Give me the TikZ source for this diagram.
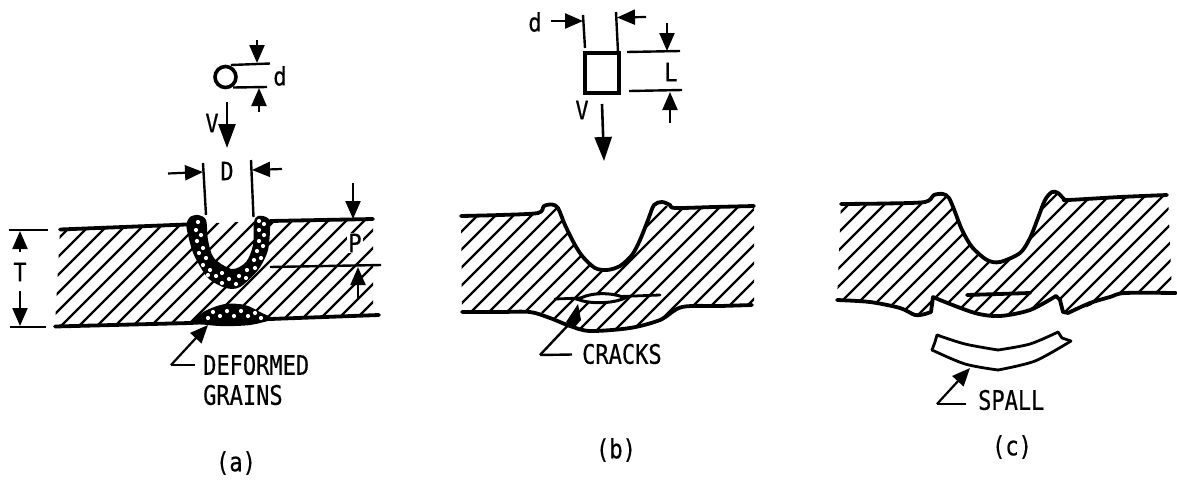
\documentclass[tikz,border=0pt]{standalone}
\usepackage{fontspec}
\setmainfont{DejaVu Sans Mono}[FakeBold=0.5]
\usetikzlibrary{arrows.meta}
\tikzset{
  x=1pt,y=-1pt,
  dimline/.style={line width=2.4pt},
  arrowline/.style={line width=2.2pt,-{Triangle[length=18pt,width=15pt]}},
  bigarrow/.style={line width=2.6pt,-{Triangle[length=24pt,width=17pt]}},
  outline/.style={line width=3.8pt,line cap=round,line join=round},
  thinout/.style={line width=2.8pt,line cap=round,line join=round},
  hatchline/.style={line width=2.3pt},
  lab/.style={font=\fontsize{22}{22}\selectfont,inner sep=0pt,yscale=1.22,anchor=west},
  dimlab/.style={font=\fontsize{22}{22}\selectfont,inner sep=0pt,yscale=1.15},
  captext/.style={font=\fontsize{22}{22}\selectfont,inner sep=0pt,yscale=1.2},
}
\newcommand{\hatchfill}[3]{\foreach \i in {#1,#2,...,#3}{\draw[hatchline] (\i,345)--(\i+170,175);}}
\begin{document}
\begin{tikzpicture}
\useasboundingbox (0,0) rectangle (1177,480);
\fill[white] (0,0) rectangle (1177,480);

% ---------- panel (a)
\begin{scope}
\clip (60,229) -- (186,224) -- (270,221) -- (373,219) -- (373,315) -- (270,319) -- (190,323) -- (55,326) -- cycle;
\hatchfill{-120}{-102}{380}
\end{scope}
\draw[outline] (60,229.5) -- (186,224.5);
\draw[outline] (270,221) -- (373,219);
\draw[outline] (55,326.5) -- (190,323) -- (270,319) -- (379,315);
% deformed layer
\fill[black] plot[smooth] coordinates {(186,224) (190,217) (198,215) (206,220) (208,240) (214,258) (232,269) (246,262) (253,245) (254,222) (258,216) (266,217) (270,223) (268,250) (258,270) (240,287) (226,288) (208,278) (194,255) (188,235) (186,224)};
\fill[black] plot[smooth] coordinates {(190,323) (205,311) (225,304) (245,305) (262,313) (272,319) (250,325) (220,326) (190,323)};
\foreach \p in {(198,222),(196,230),(201,235),(197,241),(203,248),(199,253),(206,258),(203,265),(210,270),(208,275),(216,276),(222,283),(222,273),(229,279),(236,284),(239,276),(246,278),(247,270),(255,268),(254,260),(261,258),(257,251),(263,246),(259,241),(264,235),(259,230),(264,224),(259,221)}
  \fill[white] \p circle (2.1);
\foreach \p in {(208,318),(213,312),(220,316),(227,311),(234,316),(241,311),(248,316),(255,313),(261,318)}
  \fill[white] \p circle (2.1);

\node[draw,circle,line width=3.6pt,minimum size=21pt,inner sep=0pt] (ball) at (225.5,77) {};
\coordinate (ballT) at (270,63.5); \coordinate (ballTs) at (231,65);
\coordinate (ballB) at (267,87); \coordinate (ballBs) at (233,87.5);
\draw[dimline] (ballTs) -- (ballT);
\draw[dimline] (ballBs) -- (ballB);
\coordinate (da1) at (257,40); \coordinate (da2) at (257,63);
\coordinate (db1) at (259,112); \coordinate (db2) at (259,88);
\draw[arrowline] (da1) -- (da2);
\draw[arrowline] (db1) -- (db2);
\node[dimlab] (dA) at (280,76) {d};
\node[dimlab] (vA) at (212,123) {V};
\coordinate (va1) at (227,102); \coordinate (va2) at (227,148);
\draw[bigarrow] (va1) -- (va2);
\coordinate (Dl1) at (203,163); \coordinate (Dl2) at (206,215);
\coordinate (Dr1) at (251,160); \coordinate (Dr2) at (253.5,217);
\draw[dimline] (Dl1) -- (Dl2);
\draw[dimline] (Dr1) -- (Dr2);
\coordinate (Da1) at (168,173.5); \coordinate (Da2) at (203,172);
\coordinate (Db1) at (282,169); \coordinate (Db2) at (252,170);
\draw[arrowline] (Da1) -- (Da2);
\draw[arrowline] (Db1) -- (Db2);
\node[dimlab] (DA) at (227,171) {D};
\coordinate (Pa1) at (353,183); \coordinate (Pa2) at (353,219);
\draw[arrowline] (Pa1) -- (Pa2);
\node[dimlab,fill=white,inner sep=1pt] (PA) at (355,243) {P};
\coordinate (Pl1) at (270,267); \coordinate (Pl2) at (381,265);
\draw[dimline] (Pl1) -- (Pl2);
\coordinate (Pb1) at (358,298); \coordinate (Pb2) at (358,267);
\draw[arrowline] (Pb1) -- (Pb2);
\coordinate (Tt1) at (9,230); \coordinate (Tt2) at (48,230);
\coordinate (Tb1) at (10,327); \coordinate (Tb2) at (46,327);
\draw[dimline] (Tt1) -- (Tt2);
\draw[dimline] (Tb1) -- (Tb2);
\node[dimlab] (TA) at (20,272) {T};
\coordinate (Ta1) at (20,252); \coordinate (Ta2) at (20,231);
\coordinate (Tc1) at (20,291); \coordinate (Tc2) at (20,326);
\draw[arrowline] (Ta1) -- (Ta2);
\draw[arrowline] (Tc1) -- (Tc2);
\node[lab] (defA) at (203,365) {DEFORMED};
\node[lab] (grA) at (203,395) {GRAINS};
\coordinate (elbA) at (171,365); \coordinate (tipA) at (208,325);
\draw[dimline] (defA.west) ++(-8,0) -- (elbA);
\draw[arrowline] (elbA) -- (tipA);
\node[captext] (capA) at (236,463) {(a)};

% ---------- panel (b)
\begin{scope}
\clip plot[smooth] coordinates {(461,216) (500,215) (540,213) (552,204) (560,215) (575,245) (583,257) (595,268) (607,270) (620,266) (632,255) (645,225) (658,202) (672,207) (754,206)} -- (754,305) -- plot[smooth] coordinates {(754,305) (682,307) (660,320) (630,328) (590,331) (570,325) (540,312) (530,312) (462,312)} -- cycle;
\hatchfill{-120}{-102}{780}
\end{scope}
\draw[outline] plot[smooth] coordinates {(461,216) (500,215) (538,213) (544,206) (552,204.5) (558,208) (565,225) (575,245) (583,257) (595,268) (607,270) (620,266) (632,255) (640,240) (648,220) (654,205) (662,202) (670,205) (675,208) (714,207) (754,206)};
\draw[outline] plot[smooth] coordinates {(462,312) (500,312) (530,312) (550,318) (570,326) (590,331) (630,328) (660,320) (682,307) (720,306) (752,305)};
\draw[thinout] (555,299) -- (660,295);
\fill[white,draw=black,line width=3pt] (578,299.5) .. controls (590,292) and (612,292) .. (625,298) .. controls (612,304) and (590,304) .. (578,299.5) -- cycle;
\fill[black] (566,322) -- (578,304) -- (581,320) -- (574,328) -- cycle;

\node[draw,line width=3.6pt,minimum width=34pt,minimum height=40pt,inner sep=0pt] (box) at (602,73) {};
\coordinate (bl1) at (583,15); \coordinate (bl2) at (585,48);
\coordinate (br1) at (616,12); \coordinate (br2) at (618,52);
\draw[dimline] (bl1) -- (bl2);
\draw[dimline] (br1) -- (br2);
\coordinate (ba1) at (551,21); \coordinate (ba2) at (583,21);
\coordinate (bb1) at (646,17); \coordinate (bb2) at (617,17.5);
\draw[arrowline] (ba1) -- (ba2);
\draw[arrowline] (bb1) -- (bb2);
\node[dimlab] (dB) at (535,22) {d};
\coordinate (Lt1) at (627,52); \coordinate (Lt2) at (680,51);
\coordinate (Lb1) at (629,91); \coordinate (Lb2) at (682,90);
\draw[dimline] (Lt1) -- (Lt2);
\draw[dimline] (Lb1) -- (Lb2);
\coordinate (La1) at (667,23); \coordinate (La2) at (667,51);
\coordinate (Lc1) at (670,123); \coordinate (Lc2) at (670,92);
\draw[arrowline] (La1) -- (La2);
\draw[arrowline] (Lc1) -- (Lc2);
\node[dimlab] (LB) at (671,72) {L};
\node[dimlab] (vB) at (582,110) {V};
\coordinate (vb1) at (602,104); \coordinate (vb2) at (604,161);
\draw[bigarrow] (vb1) -- (vb2);
\node[lab] (crB) at (582,354) {CRACKS};
\coordinate (elbB) at (540,355); \coordinate (tipB) at (572,321);
\draw[dimline] (crB.west) ++(-10,0.5) -- (elbB);
\draw[dimline] (elbB) -- (tipB);
\node[captext] (capB) at (616,450) {(b)};

% ---------- panel (c)
\begin{scope}
\clip plot[smooth] coordinates {(841,204) (925,202) (941,194) (950,200) (960,225) (970,245) (985,258) (1000,261) (1020,255) (1030,240) (1040,215) (1050,192) (1062,197) (1067,200)} -- (1168,196) -- (1172,293) -- plot[smooth] coordinates {(1172,293) (1125,293) (1110,297) (1075,312) (1065,313) (1060,298) (1058,295) (1030,310) (1000,316) (975,313) (945,303) (934,296) (927,314) (915,315) (900,308) (870,302) (837,300)} -- cycle;
\hatchfill{-120}{-102}{1200}
\end{scope}
\draw[outline] plot[smooth] coordinates {(841,204) (885,203.5) (925,202) (934,195) (943,194) (949,198) (955,212) (962,230) (972,247) (987,260) (1000,262) (1020,253) (1030,238) (1038,218) (1045,200) (1052,192) (1058,193) (1064,199) (1068,200) (1120,197) (1167,195)};
\draw[outline] plot[smooth] coordinates {(837,300) (870,302) (900,308) (915,315) (925,314)};
\draw[outline] (925,314) -- (931,312) -- (933,297) -- (940,300);
\draw[outline] plot[smooth] coordinates {(940,300) (975,313) (1000,316) (1030,310) (1056,296)};
\draw[outline] (1056,296) -- (1060,300) -- (1063,312) -- (1068,313);
\draw[outline] plot[smooth] coordinates {(1068,313) (1090,303) (1110,297) (1125,293) (1176,293)};
\draw[outline] (967,295) -- (1030,293);

\draw[thinout] plot[smooth] coordinates {(937,335) (965,344) (998,350)};
\draw[thinout] plot[smooth] coordinates {(998,350) (1030,344) (1058,332)};
\draw[thinout] (937,335) -- (935,342) -- (932,350);
\draw[thinout] (1058,332) -- (1062,338) -- (1071,341);
\draw[thinout] plot[smooth] coordinates {(932,350) (965,364) (998,370)};
\draw[thinout] plot[smooth] coordinates {(998,370) (1035,361) (1071,341)};
\node[lab] (spC) at (978,400) {SPALL};
\coordinate (elbC) at (937,404); \coordinate (tipC) at (970,368);
\draw[dimline] (spC.west) ++(-12,4) -- (elbC);
\draw[arrowline] (elbC) -- (tipC);
\node[captext] (capC) at (1012,447) {(c)};
\end{tikzpicture}
\end{document}
